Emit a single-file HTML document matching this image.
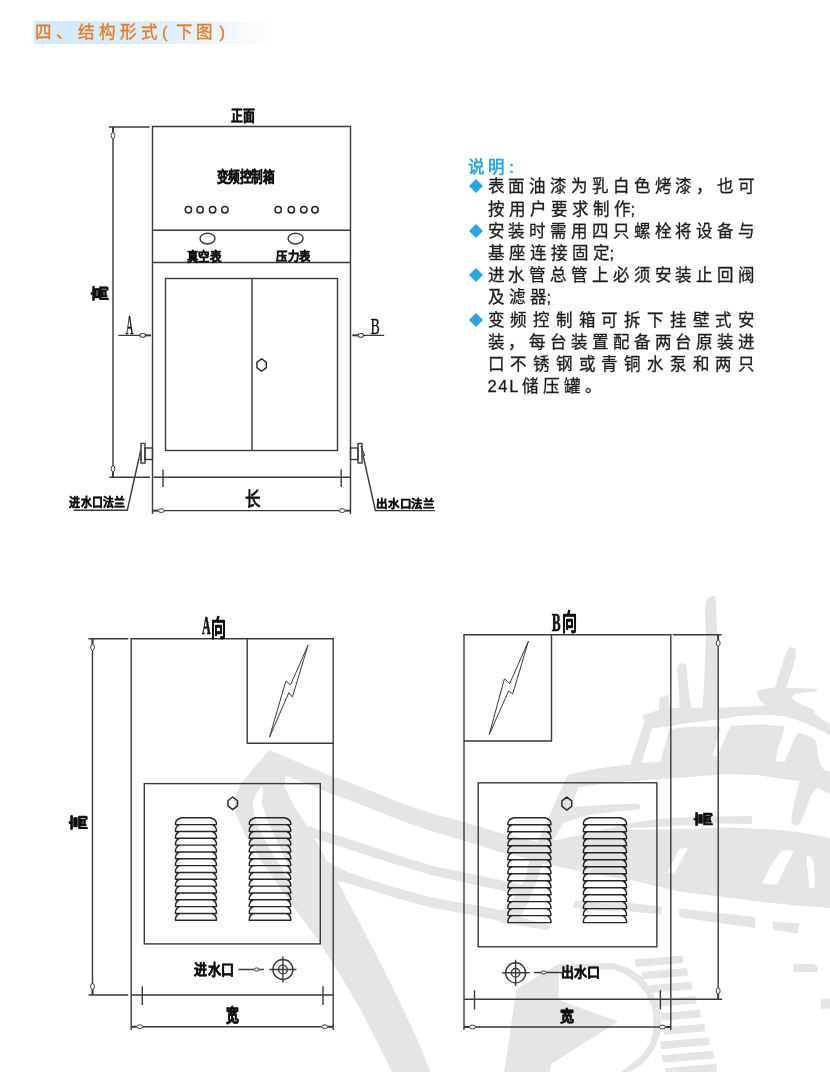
<!DOCTYPE html>
<html lang="zh-CN">
<head>
<meta charset="utf-8">
<title>结构形式</title>
<style>
html,body{margin:0;padding:0;background:#fff;}
body{width:830px;height:1072px;position:relative;overflow:hidden;font-family:"Liberation Sans",sans-serif;}
#titlebar{position:absolute;left:34px;top:20.5px;width:244px;height:23px;background:linear-gradient(90deg,#d3e8f9 0%,#dbecfa 45%,#eef6fc 75%,#ffffff 100%);}
#title{position:absolute;left:35px;top:20px;height:24px;line-height:24px;font-size:16.5px;letter-spacing:4.3px;color:#e27c28;-webkit-text-stroke:0.35px #e27c28;white-space:nowrap;}
#notes{position:absolute;left:468px;top:154px;width:300px;color:#1c1c1c;-webkit-text-stroke:0.3px #1c1c1c;}
#notes .h{position:absolute;left:0;top:1.5px;font-size:16.5px;font-weight:bold;color:#2ba4e2;-webkit-text-stroke:0;letter-spacing:3.4px;line-height:22px;white-space:nowrap;}
#notes .l{position:absolute;left:19.6px;width:267.5px;height:22px;line-height:22px;font-size:16.5px;white-space:nowrap;}
#notes .j{text-align:justify;text-align-last:justify;text-justify:inter-character;}
#notes .s{letter-spacing:4px;}
#notes .b{position:absolute;left:1.2px;width:14px;height:14px;}
#notes .p{margin-left:-4px;}
#notes .n{letter-spacing:1.6px;margin-right:2px;}
svg{position:absolute;left:0;top:0;}
#page{position:absolute;left:0;top:0;width:830px;height:1072px;opacity:.999;will-change:transform;}
.lbl{font-family:"Liberation Serif",serif;fill:#111;}
.lbl text{stroke:#111;stroke-width:.35px;stroke-linejoin:round;}
.lbl text[font-weight=bold]{stroke-width:.7px;}
</style>
</head>
<body>
<div id="page">
<!--WM0--><svg id="wm" width="830" height="1072" viewBox="0 0 830 1072">
<g fill="#e5e5e5">
<path d="M642.2 715.4L658.8 710.0L659.5 698.0L668.2 694.5L670.0 708.5L679.6 707.8L678.9 689.4L677.6 676.4L677.0 668.5L678.5 664.5L682.0 663.0L685.5 663.8L686.8 668.5L688.0 683.0L689.4 696.0L691.3 707.8L702.4 707.8L703.7 690.0L705.0 663.0L705.7 637.0L705.0 611.0L705.7 602.0L708.0 598.0L711.0 596.2L714.8 596.0L715.9 600.0L716.5 620.0L717.4 635.0L717.8 680.0L718.0 707.6L740.0 706.7L756.8 706.3L765.2 705.6L758.9 698.6L756.8 693.0L757.5 690.2L765.2 688.8L775.0 687.7L777.8 679.0L782.0 665.0L786.2 652.4L789.7 646.8L796.0 648.9L795.3 658.0L791.8 670.6L787.6 683.2L786.2 687.7L803.0 688.1L816.3 688.8L817.7 690.2L815.6 691.6L803.0 692.7L796.0 693.7L791.8 696.9L793.9 700.0L803.0 705.6L812.8 709.1L815.6 714.0L821.2 718.9L830.0 723.8L830.0 794.5L818.2 787.7L811.4 794.5L806.4 808.0L801.3 821.4L798.0 825.7L792.0 824.0L791.2 818.0L794.6 801.2L799.6 781.0L784.4 779.3L757.5 775.0L723.7 774.2L690.0 777.0L665.0 778.7L631.7 781.0L602.8 783.8L578.0 787.5L568.1 774.4L598.7 768.3L630.4 764.2L636.3 745.7L644.7 722.0Z"/>
<path d="M269.0 750.0L252.0 770.0L240.0 785.0L234.0 800.0L236.0 815.0L245.0 835.0L262.0 862.0L290.0 902.0L318.0 940.0L340.0 975.0L358.0 1005.0L379.2 1046.0L392.0 1072.0L430.4 1072.0L418.3 1041.6L397.2 996.4L376.0 954.2L359.9 922.9L348.7 902.4L337.5 880.9L324.6 856.4L309.6 829.6L294.7 807.2L284.3 786.3L285.7 775.8Z"/>
<path d="M269.0 750.0L300.0 763.0L330.0 775.5L348.7 782.0L376.7 793.2L404.7 804.4L432.7 813.7L464.0 822.1L500.0 833.0L530.0 840.0L548.0 845.0L540.0 862.0L500.0 852.0L464.0 840.8L432.7 831.5L404.7 822.1L376.7 810.9L348.7 799.7L330.0 793.2L308.0 784.0L285.7 775.8Z"/>
<path d="M308.0 826.0L330.0 833.3L348.7 838.9L376.7 848.3L404.7 857.6L432.7 866.0L470.0 873.5L500.0 880.0L528.0 886.0L524.0 896.0L500.0 890.0L470.0 883.7L432.7 875.3L404.7 866.9L376.7 858.5L348.7 849.2L330.0 843.6L313.0 838.0Z"/>
<path d="M326.0 861.0L348.7 872.5L376.7 881.9L404.7 890.3L432.7 897.7L470.0 904.3L495.0 909.0L510.0 912.0L500.0 921.0L470.0 914.5L432.7 908.0L404.7 900.5L376.7 892.1L348.7 883.7L337.5 880.9Z"/>
<path d="M568.1 774.4L559.5 792.5L550.8 812.7L545.0 825.7L539.0 839.0L531.2 855.0L524.0 881.2L509.5 905.3L496.6 913.6L499.6 922.6L547.8 930.0L550.8 925.6L520.0 917.0L527.0 905.0L537.0 881.0L544.0 858.0L553.0 841.0L563.8 822.8L572.0 806.0L578.3 788.0Z"/>
<path d="M570.0 800.0L573.9 806.9L602.8 804.8L637.5 803.7L639.9 805.3L640.3 808.0L638.9 809.8L617.3 811.3L588.4 814.9L563.8 822.8L560.0 815.0Z"/>
<path d="M552.0 841.0L570.0 837.0L588.4 833.0L610.0 828.0L631.7 822.8L650.0 820.0L665.0 818.5L701.2 816.5L740.0 816.3L751.7 816.1L752.3 820.0L751.7 823.9L714.3 823.4L678.2 825.8L650.0 827.5L628.7 828.3L628.7 829.6L678.0 829.2L726.4 827.3L774.6 829.4L798.7 832.0L830.0 838.0L830.0 908.0L802.0 906.0L758.0 901.5L715.0 896.0L678.0 891.5L654.0 885.5L630.0 880.0L600.0 875.0L570.0 869.0L540.0 863.0Z"/>
<path d="M575.0 900.5L600.0 903.0L630.0 903.0L661.3 906.5L663.0 906.5L660.8 914.5L630.0 911.5L600.0 911.0L573.0 908.0Z"/>
<path d="M679.3 908.4L755.2 917.1L755.2 928.0L715.0 922.5L679.3 917.1Z"/>
<path d="M772.5 921.4L799.6 923.6L797.5 933.4L773.6 930.1Z"/>
<path d="M793.1 963.7L812.7 963.7L818.0 967.0L818.0 972.3L793.1 972.3Z"/>
<path d="M820.2 999.5L830.0 998.4L830.0 1008.2L821.3 1009.3Z"/>
<path d="M516.3 989.0L558.6 964.1L558.6 999.9L618.2 1021.6L551.0 1063.9L549.9 1072.0L504.3 1072.0Z"/>
<path d="M558.6 964.1L612.8 963.0L628.0 968.0L641.0 976.0L651.0 989.0L658.3 1004.2L661.0 1018.0L660.5 1032.4L656.5 1045.0L649.6 1056.3L641.0 1065.0L630.1 1072.0L621.0 1072.0L634.0 1062.0L643.1 1054.1L649.5 1044.0L652.9 1032.4L653.5 1018.0L651.8 1006.4L645.5 993.0L636.6 982.5L625.0 974.0L612.8 969.5L558.6 970.6Z"/>
<path d="M634.5 959.4L682.5 955.4L683.7 963.0L635.7 967.0Z"/>
<path d="M641.5 971.9L686.9 968.1L688.1 975.7L642.7 979.5Z"/>
<path d="M649.0 985.3L691.2 981.7L692.4 989.3L650.2 992.9Z"/>
<path d="M656.0 999.2L695.5 995.8L696.7 1003.4L657.2 1006.8Z"/>
<path d="M660.5 1013.2L699.9 1009.8L701.1 1017.4L661.7 1020.8Z"/>
<path d="M663.0 1027.3L704.2 1023.7L705.4 1031.3L664.2 1034.9Z"/>
<path d="M660.0 1041.6L708.6 1037.4L709.8 1045.0L661.2 1049.2Z"/>
<path d="M661.5 1055.2L712.9 1050.8L714.1 1058.4L662.7 1062.8Z"/>
<path d="M665.0 1068.2L716.1 1063.8L717.3 1071.4L666.2 1075.8Z"/>
</g>
<g fill="#fff">
<path d="M652.3 728.4L670.4 726.0L683.4 723.8L697.8 721.9L716.6 719.8L740.0 716.0L768.0 714.7L786.2 716.5L800.2 721.0L812.8 726.6L824.0 732.2L830.0 735.7L830.0 771.7L824.0 770.0L820.5 764.4L817.7 753.2L816.3 742.0L812.8 737.8L805.8 735.0L798.8 732.2L793.9 739.2L789.0 751.8L784.8 761.6L775.7 761.6L777.1 751.8L782.0 736.4L784.8 725.9L760.0 724.3L740.0 725.2L730.4 725.5L724.0 741.0L717.3 756.6L713.0 755.2L717.0 741.0L721.0 726.6L697.8 726.6L683.4 727.5L669.5 729.3L660.2 761.7L641.4 763.1Z"/>
<path d="M262.0 786.0L256.0 794.0L252.5 803.0L254.4 817.6L262.0 835.0L275.0 858.0L290.0 882.0L294.0 880.0L282.0 852.0L268.0 822.0L261.5 803.0L263.0 792.0Z"/>
<path d="M679.4 848.7L687.8 848.0L674.6 872.8L667.3 872.8Z"/>
<path d="M780.6 851.5L787.0 850.0L793.9 851.5L786.0 866.0L777.0 884.8L762.0 883.6L770.0 867.0Z"/>
<path d="M807.0 856.0L810.5 856.5L813.5 862.0L815.0 878.0L814.3 888.0L809.5 888.0L808.0 874.0L806.5 862.0Z"/>
</g>
</svg><!--WM1-->
<div id="titlebar"></div>
<div id="title"><span style="position:absolute;left:0">四、结构形式</span><span style="position:absolute;left:127px;letter-spacing:0">(</span><span style="position:absolute;left:140.5px;letter-spacing:3.4px">下图</span><span style="position:absolute;left:184.5px;letter-spacing:0">)</span></div>

<div id="notes">
<div class="h">说明:</div>
<svg class="b" style="top:25.4px" viewBox="0 0 14 14"><path d="M7 0L14 7L7 14L0 7Z" fill="#2ba4e2"/></svg>
<div class="l j" style="top:21.2px">表面油漆为乳白色烤漆，也可</div>
<div class="l s" style="top:43.5px">按用户要求制作<span class="p">;</span></div>
<svg class="b" style="top:69.9px" viewBox="0 0 14 14"><path d="M7 0L14 7L7 14L0 7Z" fill="#2ba4e2"/></svg>
<div class="l j" style="top:65.7px">安装时需用四只螺栓将设备与</div>
<div class="l s" style="top:88.0px">基座连接固定<span class="p">;</span></div>
<svg class="b" style="top:114.4px" viewBox="0 0 14 14"><path d="M7 0L14 7L7 14L0 7Z" fill="#2ba4e2"/></svg>
<div class="l j" style="top:110.2px">进水管总管上必须安装止回阀</div>
<div class="l s" style="top:132.4px">及滤器<span class="p">;</span></div>
<svg class="b" style="top:158.9px" viewBox="0 0 14 14"><path d="M7 0L14 7L7 14L0 7Z" fill="#2ba4e2"/></svg>
<div class="l j" style="top:154.7px">变频控制箱可拆下挂壁式安</div>
<div class="l j" style="top:176.9px">装，每台装置配备两台原装进</div>
<div class="l j" style="top:199.2px">口不锈钢或青铜水泵和两只</div>
<div class="l s" style="top:221.4px"><span class="n">24L</span>储压罐。</div>
</div>

<svg id="draw" width="830" height="1072" viewBox="0 0 830 1072">
<g fill="none" stroke="#3d3a38" stroke-width="1.4">

<!-- front view -->
<path d="M152.5 514V126.5H350.5V514"/>
<path d="M153 230.2H350.5M153 262.5H350.5M153.5 477.2H350.5"/>
<rect x="165.5" y="278.5" width="172" height="172"/>
<path d="M252 278.5V450.5"/>
<path d="M261.6 358.7L266.3 362.4V367.6L261.6 371.3L256.90000000000003 367.6V362.4Z" stroke="#262626" stroke-width="1.4" stroke-linejoin="round"/>
<g stroke-width="1.5" stroke="#262626">
<circle cx="188.4" cy="209.7" r="3.2"/><circle cx="200.1" cy="209.7" r="3.2"/><circle cx="212.6" cy="209.7" r="3.2"/><circle cx="224.9" cy="209.7" r="3.2"/>
<circle cx="278.2" cy="209.7" r="3.2"/><circle cx="291.3" cy="209.7" r="3.2"/><circle cx="303.8" cy="209.7" r="3.2"/><circle cx="315" cy="209.7" r="3.2"/>
</g>
<ellipse cx="207.5" cy="238.6" rx="7.5" ry="5.4"/><ellipse cx="295.6" cy="238.6" rx="7.5" ry="5.4"/>
<!-- height dimension -->
<path d="M109 127H149.5M109.5 477.2H150M113 127V477"/>
<path d="M113.0 127.3L113.0 132.3" stroke-width="1.9"/><ellipse cx="113.0" cy="135.6" rx="1.9" ry="3" fill="#fff" stroke-width="1"/><path d="M113.0 477.0L113.0 472.0" stroke-width="1.9"/><ellipse cx="113.0" cy="468.7" rx="1.9" ry="3" fill="#fff" stroke-width="1"/>
<!-- A / B arrows -->
<path d="M118.3 335.4H151M352.5 335.4H384.2"/>
<path d="M151.0 335.4L145.4 335.4" stroke-width="1.9"/><ellipse cx="142.7" cy="335.4" rx="2.7" ry="1.9" fill="#fff" stroke-width="1.1"/><path d="M352.5 335.4L358.1 335.4" stroke-width="1.9"/><ellipse cx="360.8" cy="335.4" rx="2.7" ry="1.9" fill="#fff" stroke-width="1.1"/>
<!-- flanges -->
<rect x="141" y="443.5" width="4" height="19.5"/><rect x="145" y="448" width="7.5" height="11.5"/>
<rect x="358" y="443.5" width="4" height="19.5"/><rect x="350.5" y="448" width="7.5" height="11.5"/>
<path d="M138.8 459L127.3 510.2H73.8M363 455L375.4 510.6H434.8"/>
<path d="M138.8 459L140.5 450L141.2 459.8ZM363 455L361 446L364.8 455.5Z" stroke-width="1"/>
<!-- length dimension -->
<path d="M163 469.6V487M341.2 469.6V487M153 510.6H350.5"/>
<path d="M153.0 510.6L158.0 510.6" stroke-width="1.9"/><ellipse cx="161.3" cy="510.6" rx="3" ry="1.9" fill="#fff" stroke-width="1"/><path d="M350.5 510.6L345.5 510.6" stroke-width="1.9"/><ellipse cx="342.2" cy="510.6" rx="3" ry="1.9" fill="#fff" stroke-width="1"/>


<!-- view A -->
<path d="M131.2 1030V638.8H333.2V1030"/>
<path d="M131.5 995H333.2M88.5 638.8H128.3M88.5 995H128.3M92.5 638.8V995"/>
<path d="M92.5 639.0L92.5 644.0" stroke-width="1.9"/><ellipse cx="92.5" cy="647.3" rx="1.9" ry="3" fill="#fff" stroke-width="1"/><path d="M92.5 994.8L92.5 989.8" stroke-width="1.9"/><ellipse cx="92.5" cy="986.5" rx="1.9" ry="3" fill="#fff" stroke-width="1"/>
<path d="M247.2 638.8V743.3H333.2"/>
<path d="M308.1 645.1L290.6 684.8L285.8 681.2L269.5 737.2L288.8 692.7L292.4 696.9Z" stroke-width="1" stroke-linejoin="miter"/>
<rect x="144.3" y="783.6" width="176" height="160.3"/>
<path d="M232.7 797.0L237.5 800.7V805.9L232.7 809.5999999999999L227.89999999999998 805.9V800.7Z" stroke="#262626" stroke-width="1.4" stroke-linejoin="round"/>
<path d="M175.5 824.6V822.8Q176.1 819.0 182.0 817.8H209.9Q215.8 819.0 216.4 822.8V824.6M175.5 824.6H216.4M175.5 831.5V829.7Q176.1 825.8 179.7 824.6M212.2 824.6Q215.8 825.8 216.4 829.7V831.5M175.5 831.5H216.4M175.5 838.3V836.5Q176.1 832.7 179.7 831.5M212.2 831.5Q215.8 832.7 216.4 836.5V838.3M175.5 838.3H216.4M175.5 845.1V843.3Q176.1 839.5 179.7 838.3M212.2 838.3Q215.8 839.5 216.4 843.3V845.1M175.5 845.1H216.4M175.5 852.0V850.2Q176.1 846.3 179.7 845.1M212.2 845.1Q215.8 846.3 216.4 850.2V852.0M175.5 852.0H216.4M175.5 858.8V857.0Q176.1 853.2 179.7 852.0M212.2 852.0Q215.8 853.2 216.4 857.0V858.8M175.5 858.8H216.4M175.5 865.6V863.8Q176.1 860.0 179.7 858.8M212.2 858.8Q215.8 860.0 216.4 863.8V865.6M175.5 865.6H216.4M175.5 872.5V870.7Q176.1 866.8 179.7 865.6M212.2 865.6Q215.8 866.8 216.4 870.7V872.5M175.5 872.5H216.4M175.5 879.3V877.5Q176.1 873.7 179.7 872.5M212.2 872.5Q215.8 873.7 216.4 877.5V879.3M175.5 879.3H216.4M175.5 886.1V884.3Q176.1 880.5 179.7 879.3M212.2 879.3Q215.8 880.5 216.4 884.3V886.1M175.5 886.1H216.4M175.5 893.0V891.2Q176.1 887.3 179.7 886.1M212.2 886.1Q215.8 887.3 216.4 891.2V893.0M175.5 893.0H216.4M175.5 899.8V898.0Q176.1 894.2 179.7 893.0M212.2 893.0Q215.8 894.2 216.4 898.0V899.8M175.5 899.8H216.4M175.5 906.6V904.8Q176.1 901.0 179.7 899.8M212.2 899.8Q215.8 901.0 216.4 904.8V906.6M175.5 906.6H216.4M175.5 913.5V911.7Q176.1 907.8 179.7 906.6M212.2 906.6Q215.8 907.8 216.4 911.7V913.5M175.5 913.5H216.4M175.5 920.3V918.5Q176.1 914.7 179.7 913.5M212.2 913.5Q215.8 914.7 216.4 918.5V920.3M175.5 920.3H216.4" stroke="#262626" stroke-width="1.45" stroke-linejoin="round" stroke-linecap="round"/>
<path d="M249.3 824.6V822.8Q249.9 819.0 255.8 817.8H284.2Q290.1 819.0 290.7 822.8V824.6M249.3 824.6H290.7M249.3 831.5V829.7Q249.9 825.8 253.5 824.6M286.5 824.6Q290.1 825.8 290.7 829.7V831.5M249.3 831.5H290.7M249.3 838.3V836.5Q249.9 832.7 253.5 831.5M286.5 831.5Q290.1 832.7 290.7 836.5V838.3M249.3 838.3H290.7M249.3 845.1V843.3Q249.9 839.5 253.5 838.3M286.5 838.3Q290.1 839.5 290.7 843.3V845.1M249.3 845.1H290.7M249.3 852.0V850.2Q249.9 846.3 253.5 845.1M286.5 845.1Q290.1 846.3 290.7 850.2V852.0M249.3 852.0H290.7M249.3 858.8V857.0Q249.9 853.2 253.5 852.0M286.5 852.0Q290.1 853.2 290.7 857.0V858.8M249.3 858.8H290.7M249.3 865.6V863.8Q249.9 860.0 253.5 858.8M286.5 858.8Q290.1 860.0 290.7 863.8V865.6M249.3 865.6H290.7M249.3 872.5V870.7Q249.9 866.8 253.5 865.6M286.5 865.6Q290.1 866.8 290.7 870.7V872.5M249.3 872.5H290.7M249.3 879.3V877.5Q249.9 873.7 253.5 872.5M286.5 872.5Q290.1 873.7 290.7 877.5V879.3M249.3 879.3H290.7M249.3 886.1V884.3Q249.9 880.5 253.5 879.3M286.5 879.3Q290.1 880.5 290.7 884.3V886.1M249.3 886.1H290.7M249.3 893.0V891.2Q249.9 887.3 253.5 886.1M286.5 886.1Q290.1 887.3 290.7 891.2V893.0M249.3 893.0H290.7M249.3 899.8V898.0Q249.9 894.2 253.5 893.0M286.5 893.0Q290.1 894.2 290.7 898.0V899.8M249.3 899.8H290.7M249.3 906.6V904.8Q249.9 901.0 253.5 899.8M286.5 899.8Q290.1 901.0 290.7 904.8V906.6M249.3 906.6H290.7M249.3 913.5V911.7Q249.9 907.8 253.5 906.6M286.5 906.6Q290.1 907.8 290.7 911.7V913.5M249.3 913.5H290.7M249.3 920.3V918.5Q249.9 914.7 253.5 913.5M286.5 913.5Q290.1 914.7 290.7 918.5V920.3M249.3 920.3H290.7" stroke="#262626" stroke-width="1.45" stroke-linejoin="round" stroke-linecap="round"/>
<circle cx="282.9" cy="969.5" r="10"/><circle cx="282.9" cy="969.5" r="4.4"/>
<path d="M269.3 969.5H296.4M282.9 956.5V982.5M238.6 969.5H264"/>
<ellipse cx="256.6" cy="969.5" rx="2.3" ry="1.6" fill="#fff" stroke-width="1"/>
<path d="M142.3 986.3V1005M323 986.3V1005M131.2 1026.7H333.2"/>
<path d="M131.4 1026.7L136.4 1026.7" stroke-width="1.9"/><ellipse cx="139.7" cy="1026.7" rx="3" ry="1.9" fill="#fff" stroke-width="1"/><path d="M333.0 1026.7L328.0 1026.7" stroke-width="1.9"/><ellipse cx="324.7" cy="1026.7" rx="3" ry="1.9" fill="#fff" stroke-width="1"/>


<!-- view B -->
<path d="M464 1030V634.8H670.8V1030"/>
<path d="M464.3 999.3H722M672.7 634.8H721.6M718.2 634.8V999.3"/>
<path d="M718.2 635.0L718.2 640.0" stroke-width="1.9"/><ellipse cx="718.2" cy="643.3" rx="1.9" ry="3" fill="#fff" stroke-width="1"/><path d="M718.2 999.1L718.2 994.1" stroke-width="1.9"/><ellipse cx="718.2" cy="990.8" rx="1.9" ry="3" fill="#fff" stroke-width="1"/>
<path d="M464 741H551.5V634.8"/>
<path d="M528.4 641.3L509.8 683.4L504.4 678.9L489.2 734.5L508.6 691L512.7 694Z" stroke-width="1" stroke-linejoin="miter"/>
<rect x="478.2" y="782.8" width="178.7" height="164"/>
<path d="M566.8 797.1L571.6999999999999 800.9V806.3L566.8 810.1L561.9 806.3V800.9Z" stroke="#262626" stroke-width="1.4" stroke-linejoin="round"/>
<path d="M507.9 824.8V823.0Q508.5 819.0 514.4 817.8H544.4Q550.3 819.0 550.9 823.0V824.8M507.9 824.8H550.9M507.9 831.8V830.0Q508.5 826.0 512.1 824.8M546.7 824.8Q550.3 826.0 550.9 830.0V831.8M507.9 831.8H550.9M507.9 838.8V837.0Q508.5 833.0 512.1 831.8M546.7 831.8Q550.3 833.0 550.9 837.0V838.8M507.9 838.8H550.9M507.9 845.7V843.9Q508.5 840.0 512.1 838.8M546.7 838.8Q550.3 840.0 550.9 843.9V845.7M507.9 845.7H550.9M507.9 852.7V850.9Q508.5 846.9 512.1 845.7M546.7 845.7Q550.3 846.9 550.9 850.9V852.7M507.9 852.7H550.9M507.9 859.7V857.9Q508.5 853.9 512.1 852.7M546.7 852.7Q550.3 853.9 550.9 857.9V859.7M507.9 859.7H550.9M507.9 866.7V864.9Q508.5 860.9 512.1 859.7M546.7 859.7Q550.3 860.9 550.9 864.9V866.7M507.9 866.7H550.9M507.9 873.7V871.9Q508.5 867.9 512.1 866.7M546.7 866.7Q550.3 867.9 550.9 871.9V873.7M507.9 873.7H550.9M507.9 880.7V878.9Q508.5 874.9 512.1 873.7M546.7 873.7Q550.3 874.9 550.9 878.9V880.7M507.9 880.7H550.9M507.9 887.7V885.9Q508.5 881.9 512.1 880.7M546.7 880.7Q550.3 881.9 550.9 885.9V887.7M507.9 887.7H550.9M507.9 894.7V892.9Q508.5 888.9 512.1 887.7M546.7 887.7Q550.3 888.9 550.9 892.9V894.7M507.9 894.7H550.9M507.9 901.6V899.8Q508.5 895.9 512.1 894.7M546.7 894.7Q550.3 895.9 550.9 899.8V901.6M507.9 901.6H550.9M507.9 908.6V906.8Q508.5 902.8 512.1 901.6M546.7 901.6Q550.3 902.8 550.9 906.8V908.6M507.9 908.6H550.9M507.9 915.6V913.8Q508.5 909.8 512.1 908.6M546.7 908.6Q550.3 909.8 550.9 913.8V915.6M507.9 915.6H550.9M507.9 922.6V920.8Q508.5 916.8 512.1 915.6M546.7 915.6Q550.3 916.8 550.9 920.8V922.6M507.9 922.6H550.9" stroke="#262626" stroke-width="1.45" stroke-linejoin="round" stroke-linecap="round"/>
<path d="M583.4 824.8V823.0Q584.0 819.0 589.9 817.8H620.0Q625.9 819.0 626.5 823.0V824.8M583.4 824.8H626.5M583.4 831.8V830.0Q584.0 826.0 587.6 824.8M622.3 824.8Q625.9 826.0 626.5 830.0V831.8M583.4 831.8H626.5M583.4 838.8V837.0Q584.0 833.0 587.6 831.8M622.3 831.8Q625.9 833.0 626.5 837.0V838.8M583.4 838.8H626.5M583.4 845.7V843.9Q584.0 840.0 587.6 838.8M622.3 838.8Q625.9 840.0 626.5 843.9V845.7M583.4 845.7H626.5M583.4 852.7V850.9Q584.0 846.9 587.6 845.7M622.3 845.7Q625.9 846.9 626.5 850.9V852.7M583.4 852.7H626.5M583.4 859.7V857.9Q584.0 853.9 587.6 852.7M622.3 852.7Q625.9 853.9 626.5 857.9V859.7M583.4 859.7H626.5M583.4 866.7V864.9Q584.0 860.9 587.6 859.7M622.3 859.7Q625.9 860.9 626.5 864.9V866.7M583.4 866.7H626.5M583.4 873.7V871.9Q584.0 867.9 587.6 866.7M622.3 866.7Q625.9 867.9 626.5 871.9V873.7M583.4 873.7H626.5M583.4 880.7V878.9Q584.0 874.9 587.6 873.7M622.3 873.7Q625.9 874.9 626.5 878.9V880.7M583.4 880.7H626.5M583.4 887.7V885.9Q584.0 881.9 587.6 880.7M622.3 880.7Q625.9 881.9 626.5 885.9V887.7M583.4 887.7H626.5M583.4 894.7V892.9Q584.0 888.9 587.6 887.7M622.3 887.7Q625.9 888.9 626.5 892.9V894.7M583.4 894.7H626.5M583.4 901.6V899.8Q584.0 895.9 587.6 894.7M622.3 894.7Q625.9 895.9 626.5 899.8V901.6M583.4 901.6H626.5M583.4 908.6V906.8Q584.0 902.8 587.6 901.6M622.3 901.6Q625.9 902.8 626.5 906.8V908.6M583.4 908.6H626.5M583.4 915.6V913.8Q584.0 909.8 587.6 908.6M622.3 908.6Q625.9 909.8 626.5 913.8V915.6M583.4 915.6H626.5M583.4 922.6V920.8Q584.0 916.8 587.6 915.6M622.3 915.6Q625.9 916.8 626.5 920.8V922.6M583.4 922.6H626.5" stroke="#262626" stroke-width="1.45" stroke-linejoin="round" stroke-linecap="round"/>
<circle cx="515.6" cy="972.8" r="10"/><circle cx="515.6" cy="972.8" r="4.3"/>
<path d="M502.2 972.8H529.6M515.6 959.8V986.1M534 972.5H562"/>
<ellipse cx="543.7" cy="972.5" rx="2.4" ry="1.6" fill="#fff" stroke-width="1"/>
<path d="M474.5 990.3V1009.6M660.4 990.3V1009.6M464 1027H670.8"/>
<path d="M464.2 1027.0L469.2 1027.0" stroke-width="1.9"/><ellipse cx="472.5" cy="1027.0" rx="3" ry="1.9" fill="#fff" stroke-width="1"/><path d="M670.6 1027.0L665.6 1027.0" stroke-width="1.9"/><ellipse cx="662.3" cy="1027.0" rx="3" ry="1.9" fill="#fff" stroke-width="1"/>

</g>
<g class="lbl" font-size="20">
<text transform="translate(230.90,120.70) scale(0.591,0.72)" font-weight="bold">正面</text>
<text transform="translate(217.00,181.60) scale(0.584,0.735)" font-weight="bold">变频控制箱</text>
<text transform="translate(186.60,261.00) scale(0.575,0.629)" font-weight="bold">真空表</text>
<text transform="translate(276.40,260.50) scale(0.569,0.614)" font-weight="bold">压力表</text>
<text transform="translate(105.90,300.60) rotate(-90) scale(0.772,0.839)" font-weight="bold">高</text>
<text transform="translate(125.80,334.10) scale(0.538,1.343)" font-weight="normal">A</text>
<text transform="translate(370.60,333.70) scale(0.697,1.117)" font-weight="normal">B</text>
<text transform="translate(69.30,507.20) scale(0.548,0.616)" font-weight="bold">进水口法兰</text>
<text transform="translate(375.90,507.50) scale(0.575,0.591)" font-weight="bold">出水口法兰</text>
<text transform="translate(245.30,506.00) scale(0.776,0.959)" font-weight="normal" style="stroke-width:.9px">长</text>
<text transform="translate(202.10,633.90) scale(0.601,1.229)" font-weight="bold" style="stroke-width:.5px">A</text>
<text transform="translate(211.30,635.60) scale(0.749,1.138)" font-weight="bold" style="stroke-width:.5px">向</text>
<text transform="translate(551.70,630.60) scale(0.665,1.260)" font-weight="bold" style="stroke-width:.5px">B</text>
<text transform="translate(561.60,629.90) scale(0.749,1.122)" font-weight="bold" style="stroke-width:.5px">向</text>
<text transform="translate(85.20,830.40) rotate(-90) scale(0.76,0.884)" font-weight="bold">高</text>
<text transform="translate(710.40,825.50) rotate(-90) scale(0.700,0.914)" font-weight="bold">高</text>
<text transform="translate(194.40,975.20) scale(0.652,0.728)" font-weight="bold">进水口</text>
<text transform="translate(560.60,977.10) scale(0.653,0.706)" font-weight="bold">出水口</text>
<text transform="translate(225.90,1022.00) scale(0.643,0.889)" font-weight="bold">宽</text>
<text transform="translate(559.50,1021.30) scale(0.703,0.764)" font-weight="bold">宽</text>
</g>
</svg>
</div>
</body>
</html>
